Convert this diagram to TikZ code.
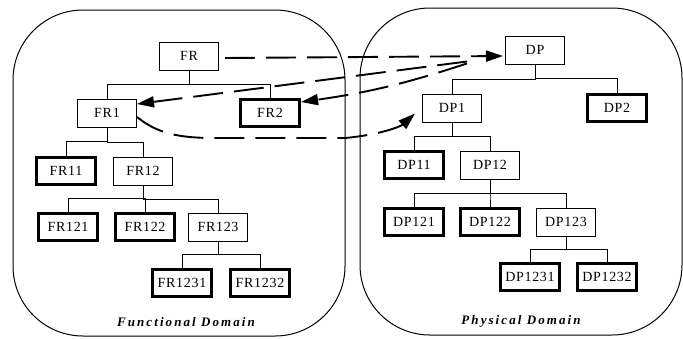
\documentclass[tikz,border=0pt]{standalone}
\usepackage{fontspec}
\setmainfont{Liberation Serif}
\usetikzlibrary{arrows.meta,calc}
\begin{document}
\begin{tikzpicture}[x=1pt,y=-1pt,
  box/.style={draw,line width=1pt,minimum width=59pt,minimum height=28pt,inner sep=0pt,
    font=\fontsize{14}{16}\selectfont\addfontfeatures{LetterSpace=5}},
  leaf/.style={box,line width=3.2pt,minimum height=27pt},
  domainbox/.style={draw,line width=1pt,rounded corners=70pt},
  treeline/.style={line width=0.8pt},
  treebranch/.style={to path={let \p1=(\tikztostart.south),\p2=(\tikztotarget.north),
      \p3=($(\p1)!0.5!(\p2)$) in (\p1) -- (\x1,\y3) -| (\p2)}},
  mapline/.style={line width=1.9pt,dash pattern=on 30pt off 11pt,
    -{Triangle[length=17pt,width=11pt]}},
  domlabel/.style={font=\fontsize{13}{15}\selectfont\bfseries\itshape\addfontfeatures{LetterSpace=16}}]

\useasboundingbox (0,0) rectangle (683,338);

% the two domains
\draw[domainbox] (13,10) rectangle (345,336);
\draw[domainbox] (360,8) rectangle (682,335);
\node[domlabel] (fdl) at (186,322) {Functional Domain};
\node[domlabel] (pdl) at (521,321) {Physical Domain};

% functional requirements hierarchy
\node[box]  (FR)     at (189,56)  {FR};
\node[box]  (FR1)    at (107,113) {FR1};
\node[leaf] (FR2)    at (270,113) {FR2};
\node[leaf] (FR11)   at (66,171)  {FR11};
\node[box]  (FR12)   at (143,171) {FR12};
\node[leaf] (FR121)  at (68,227)  {FR121};
\node[leaf] (FR122)  at (145,227) {FR122};
\node[box]  (FR123)  at (218,227) {FR123};
\node[leaf] (FR1231) at (182,283) {FR1231};
\node[leaf] (FR1232) at (260,283) {FR1232};

% design parameters hierarchy
\node[box]  (DP)     at (535,50)  {DP};
\node[box]  (DP1)    at (452,108) {DP1};
\node[leaf] (DP2)    at (617,108) {DP2};
\node[leaf] (DP11)   at (414,165) {DP11};
\node[box]  (DP12)   at (490,165) {DP12};
\node[leaf] (DP121)  at (414,222) {DP121};
\node[leaf] (DP122)  at (490,222) {DP122};
\node[box]  (DP123)  at (566,222) {DP123};
\node[leaf] (DP1231) at (530,277) {DP1231};
\node[leaf] (DP1232) at (607,277) {DP1232};

% tree branches
\foreach \p/\c in {FR/FR1,FR/FR2,FR1/FR11,FR1/FR12,FR12/FR121,FR12/FR122,FR12/FR123,
                   FR123/FR1231,FR123/FR1232,
                   DP/DP1,DP/DP2,DP1/DP11,DP1/DP12,DP12/DP121,DP12/DP122,DP12/DP123,
                   DP123/DP1231,DP123/DP1232}
  \draw[treeline] (\p) to[treebranch] (\c);

% zigzag mappings between the domains
\coordinate (bstart) at ($(DP.south west)+(-38,-3)$);
\coordinate (cstart) at ($(DP.south west)+(-38,-1)$);
\coordinate (dpin)   at ($(DP1.south west)+(-7,-9)$);

\draw[mapline,shorten >=2pt] ([xshift=6pt,yshift=-2pt]FR.east) -- ([yshift=-6pt]DP.west);
\draw[mapline] (bstart) -- ([yshift=9pt]FR1.east);
\draw[mapline] (cstart) to[bend left=5] ([yshift=11pt]FR2.east);
\draw[mapline] ([yshift=-4pt]FR1.east) .. controls (158,134) and (180,138) .. (215,138)
  -- (345,138) .. controls (378,135) and (400,127) .. (dpin);
\end{tikzpicture}
\end{document}
